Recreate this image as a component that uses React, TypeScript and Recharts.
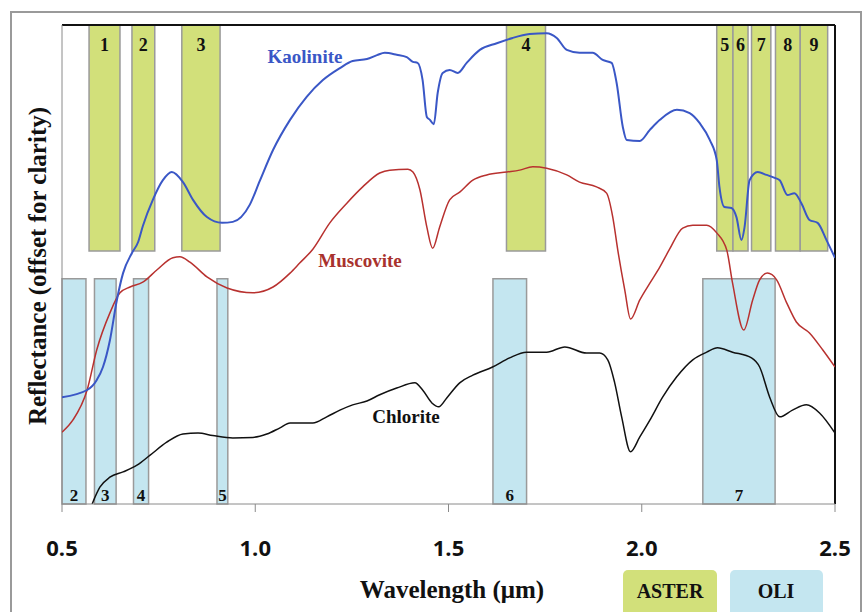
import {
  ComposedChart,
  Line,
  XAxis,
  YAxis,
  ReferenceArea,
  ReferenceLine,
} from "recharts"

// spectra (wavelength in µm, reflectance offset for clarity)
const kaoliniteX = [
  0.5, 0.565, 0.59, 0.606, 0.624, 0.642, 0.658, 0.681, 0.697, 0.709, 0.735, 0.761, 0.784,
  0.813, 0.839, 0.875, 0.914, 0.942, 0.986, 1.012, 1.046, 1.09, 1.133, 1.175, 1.219, 1.252,
  1.289, 1.315, 1.335, 1.366, 1.392, 1.408, 1.42, 1.433, 1.444, 1.452, 1.462, 1.472, 1.485,
  1.503, 1.524, 1.547, 1.581, 1.625, 1.666, 1.71, 1.754, 1.78, 1.806, 1.839, 1.873,
  1.899, 1.922, 1.935, 1.951, 1.961, 1.995, 2.021, 2.047, 2.091, 2.124, 2.15, 2.176,
  2.194, 2.201, 2.214, 2.232, 2.245, 2.258, 2.266, 2.279, 2.3, 2.323, 2.344, 2.357,
  2.377, 2.395, 2.413, 2.434, 2.455, 2.478, 2.5,
]
const kaoliniteY = [
  22.3, 23.8, 25.9, 28.6, 34.2, 42.6, 48.2, 52.4, 54.7, 58.0, 63.5, 67.6, 69.3,
  67.2, 63.5, 59.9, 58.7, 58.9, 62.5, 67.5, 73.9, 80.2, 85.0, 88.5, 91.0, 92.5,
  92.9, 93.7, 94.2, 93.8, 93.3, 92.3, 92.1, 88.5, 80.8, 80.2, 79.3, 85.8, 90.0,
  90.6, 90.0, 92.1, 94.8, 96.2, 97.3, 98.1, 98.3, 97.3, 94.8, 94.2, 94.2,
  92.7, 92.1, 87.9, 78.7, 76.0, 75.8, 78.1, 80.2, 82.3, 81.6, 79.5, 76.0,
  71.8, 66.2, 62.0, 61.8, 59.9, 55.1, 57.8, 67.6, 69.3, 68.7, 68.1, 67.6,
  64.5, 64.9, 62.8, 59.3, 58.7, 55.1, 51.4,
]

const muscoviteX = [
  0.5, 0.528, 0.565, 0.59, 0.624, 0.65, 0.676, 0.709, 0.746, 0.787, 0.805,
  0.831, 0.875, 0.927, 0.994, 1.046, 1.09, 1.115, 1.149, 1.193, 1.237, 1.278, 1.322,
  1.348, 1.395, 1.408, 1.426, 1.444, 1.459, 1.477, 1.503, 1.529, 1.563, 1.599, 1.651,
  1.684, 1.718, 1.754, 1.806, 1.839, 1.883, 1.909, 1.925, 1.938, 1.956, 1.971, 1.995,
  2.021, 2.047, 2.072, 2.106, 2.132, 2.168, 2.194, 2.22, 2.235, 2.264, 2.287, 2.305,
  2.325, 2.349, 2.375, 2.4, 2.434, 2.468, 2.5,
]
const muscoviteY = [
  15.0, 17.5, 23.8, 32.2, 39.9, 44.1, 45.3, 46.3, 48.9, 51.4, 51.6,
  50.5, 47.4, 45.1, 44.1, 45.3, 48.2, 50.3, 53.2, 58.7, 62.8, 66.2, 69.1,
  69.7, 69.9, 69.3, 65.6, 57.8, 53.4, 57.8, 63.5, 65.1, 67.6, 68.7, 69.3,
  69.7, 70.4, 70.1, 68.7, 67.2, 66.2, 64.9, 59.9, 53.0, 44.7, 38.6, 42.6,
  46.1, 49.5, 53.2, 57.6, 58.2, 58.2, 56.6, 53.0, 46.1, 36.3, 42.6, 46.8,
  48.2, 46.8, 42.0, 38.0, 35.7, 32.2, 28.6,
]

const chloriteX = [
  0.578, 0.598, 0.624, 0.658, 0.694, 0.728, 0.771, 0.813, 0.852, 0.89, 0.942, 0.994,
  1.03, 1.064, 1.09, 1.149, 1.185, 1.219, 1.252, 1.289, 1.322, 1.366, 1.413, 1.433, 1.457,
  1.475, 1.495, 1.529, 1.563, 1.614, 1.658, 1.702, 1.754, 1.801, 1.857, 1.891, 1.912,
  1.93, 1.948, 1.971, 1.995, 2.021, 2.054, 2.09, 2.132, 2.168, 2.196, 2.235, 2.284,
  2.305, 2.331, 2.357, 2.39, 2.426, 2.46, 2.5,
]
const chloriteY = [
  0, 3.5, 5.6, 6.7, 8.1, 10.2, 12.9, 14.6, 14.8, 14.3, 13.8, 13.9,
  14.6, 15.9, 16.9, 16.9, 18.2, 19.6, 20.7, 21.5, 22.8, 24.2, 25.3, 23.8, 21.1,
  20.3, 22.1, 25.3, 26.9, 28.6, 30.5, 31.7, 31.7, 32.8, 31.5, 31.5, 30.1,
  25.3, 18.2, 10.9, 14.0, 17.5, 22.3, 26.5, 30.1, 31.7, 32.6, 31.7, 30.5,
  28.6, 22.3, 18.2, 19.6, 20.7, 19.0, 14.8,
]

// sensor bands
const asterLabels = ["1", "2", "3", "4", "5", "6", "7", "8", "9"]
const asterStart = [0.57, 0.681, 0.81, 1.65, 2.194, 2.236, 2.284, 2.346, 2.41]
const asterEnd = [0.65, 0.74, 0.909, 1.751, 2.236, 2.275, 2.334, 2.41, 2.481]

const oliLabels = ["2", "3", "4", "5", "6", "7"]
const oliStart = [0.5, 0.584, 0.685, 0.901, 1.615, 2.158]
const oliEnd = [0.562, 0.64, 0.724, 0.929, 1.702, 2.345]

const xTicks = [0.5, 1.0, 1.5, 2.0, 2.5]

const toPoints = (xs: number[], ys: number[]) =>
  xs.map((x, i) => ({ x, y: ys[i] }))

const ASTER_FILL = "#D2E07A"
const OLI_FILL = "#C4E6F0"
const BAND_STROKE = "#9a9a9a"
const SERIF = "'Liberation Serif', 'Times New Roman', serif"

export default function App() {
  return (
    <div style={{ position: "absolute", left: 0, top: 0, width: 863, height: 612, background: "#fff" }}>
      <ComposedChart
        width={863}
        height={612}
        margin={{ top: 25, right: 28, bottom: 0, left: 62 }}
      >
        <XAxis
          dataKey="x"
          type="number"
          domain={[0.5, 2.5]}
          ticks={xTicks}
          tickFormatter={(v: number) => v.toFixed(1)}
          height={108}
          tickSize={8}
          tickMargin={28}
          stroke="#8a8a8a"
          tick={{
            fontSize: 22,
            fontWeight: 700,
            fill: "#111",
            fontFamily: "'Open Sans', sans-serif",
          }}
          allowDataOverflow
        />
        <YAxis type="number" domain={[0, 100]} hide allowDataOverflow />

        {asterLabels.map((label, i) => (
          <ReferenceArea
            key={"aster" + label}
            x1={asterStart[i]}
            x2={asterEnd[i]}
            y1={52.8}
            y2={100}
            fill={ASTER_FILL}
            fillOpacity={1}
            stroke={BAND_STROKE}
            strokeWidth={1.5}
            label={{
              value: label,
              position: "insideTop",
              offset: 13,
              fontSize: 18,
              fontWeight: 700,
              fill: "#111",
              fontFamily: SERIF,
            }}
          />
        ))}

        {oliLabels.map((label, i) => (
          <ReferenceArea
            key={"oli" + label}
            x1={oliStart[i]}
            x2={oliEnd[i]}
            y1={0}
            y2={47}
            fill={OLI_FILL}
            fillOpacity={1}
            stroke={BAND_STROKE}
            strokeWidth={1.5}
            label={{
              value: label,
              position: "insideBottom",
              offset: 3,
              fontSize: 17,
              fontWeight: 700,
              fill: "#111",
              fontFamily: SERIF,
            }}
          />
        ))}

        <ReferenceLine y={100} stroke="#111" strokeWidth={2} />
        <ReferenceLine x={2.5} stroke="#111" strokeWidth={2} />
        <ReferenceLine x={0.5} stroke="#8a8a8a" strokeWidth={1} />

        <Line
          data={toPoints(muscoviteX, muscoviteY)}
          dataKey="y"
          type="monotone"
          stroke="#B8312F"
          strokeWidth={1.5}
          dot={false}
          isAnimationActive={false}
        />
        <Line
          data={toPoints(chloriteX, chloriteY)}
          dataKey="y"
          type="monotone"
          stroke="#111"
          strokeWidth={1.5}
          dot={false}
          isAnimationActive={false}
        />
        <Line
          data={toPoints(kaoliniteX, kaoliniteY)}
          dataKey="y"
          type="monotone"
          stroke="#3A57C6"
          strokeWidth={2}
          dot={false}
          isAnimationActive={false}
        />
      </ComposedChart>

      <svg
        width={863}
        height={612}
        style={{ position: "absolute", left: 0, top: 0, pointerEvents: "none" }}
      >
        <rect x={11} y={12} width={850} height={640} fill="none" stroke="#9a9a9a" strokeWidth={2} />

        <text x={305} y={63} textAnchor="middle" fontFamily={SERIF} fontWeight={700} fontSize={19} fill="#3A57C6">
          Kaolinite
        </text>
        <text x={360} y={267} textAnchor="middle" fontFamily={SERIF} fontWeight={700} fontSize={19} fill="#A8322D">
          Muscovite
        </text>
        <text x={406} y={423} textAnchor="middle" fontFamily={SERIF} fontWeight={700} fontSize={19} fill="#111">
          Chlorite
        </text>

        <text
          transform="translate(46, 266) rotate(-90)"
          textAnchor="middle"
          fontFamily={SERIF}
          fontWeight={700}
          fontSize={25}
          fill="#111"
        >
          Reflectance (offset for clarity)
        </text>
        <text x={452} y={598} textAnchor="middle" fontFamily={SERIF} fontWeight={700} fontSize={25} fill="#111">
          Wavelength (μm)
        </text>

        <rect x={623} y={570} width={94} height={46} rx={5} fill={ASTER_FILL} />
        <text x={670} y={598} textAnchor="middle" fontFamily={SERIF} fontWeight={700} fontSize={20} fill="#111">
          ASTER
        </text>
        <rect x={730} y={570} width={93} height={46} rx={5} fill={OLI_FILL} />
        <text x={776} y={598} textAnchor="middle" fontFamily={SERIF} fontWeight={700} fontSize={20} fill="#111">
          OLI
        </text>
      </svg>
    </div>
  )
}
